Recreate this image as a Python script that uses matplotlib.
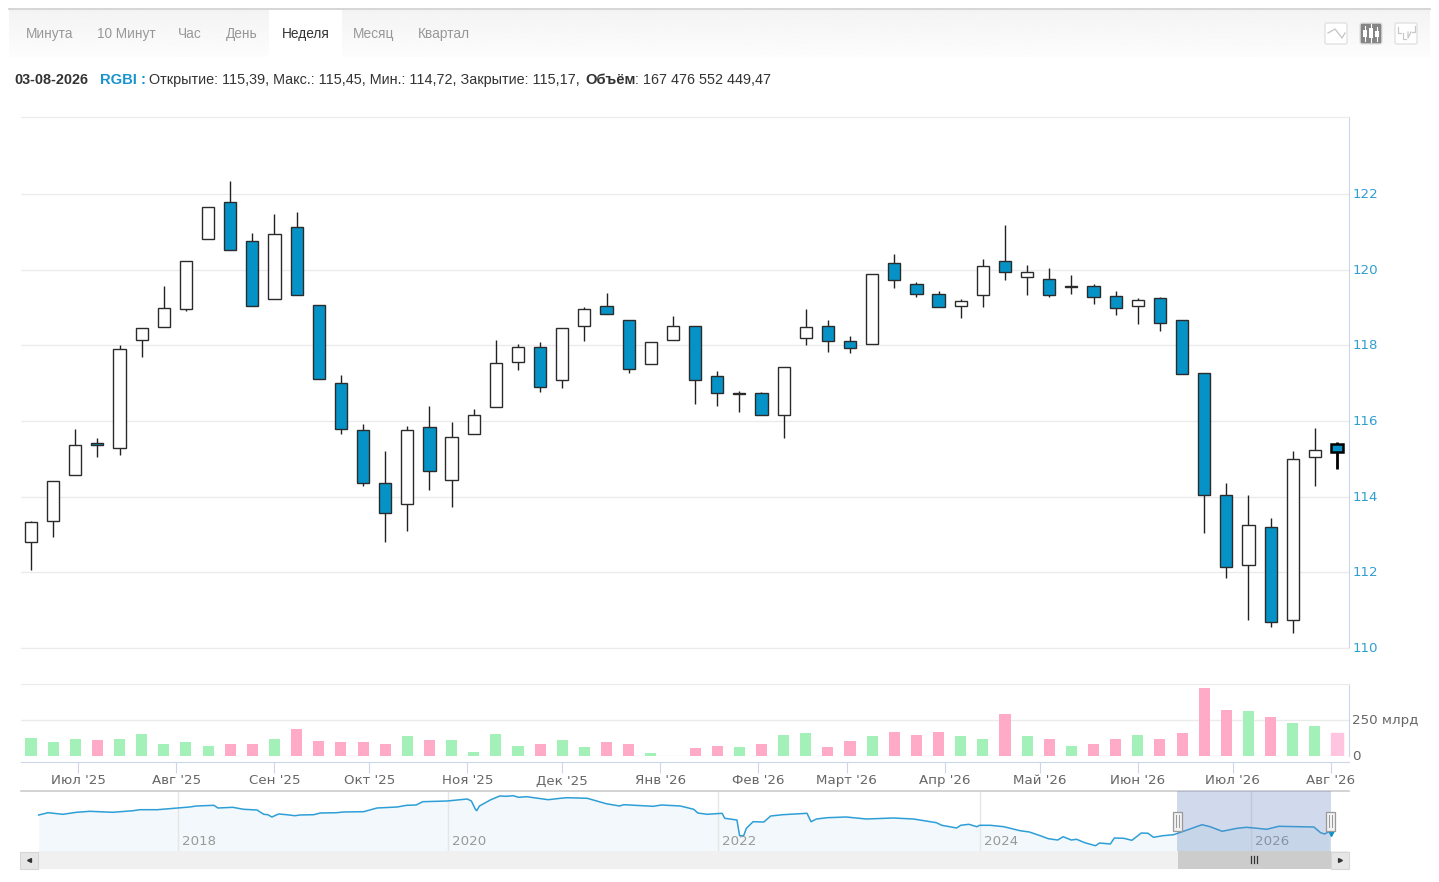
#RGBI weekly candles with volume and navigator
import numpy as np
import pandas as pd
import matplotlib
matplotlib.use("Agg")
import matplotlib.pyplot as plt
import matplotlib.dates as mdates
from matplotlib.patches import FancyBboxPatch, Rectangle
from matplotlib.transforms import ScaledTranslation

#weekly prices
opens = [112.79, 113.36, 114.57, 115.43, 115.30, 118.13, 118.49, 118.96, 120.81, 121.80,
         120.75, 119.22, 121.13, 119.06, 117.00, 115.75, 114.37, 113.80, 115.85, 114.44,
         115.67, 116.38, 117.57, 117.96, 117.09, 118.50, 119.03, 118.68, 117.51, 118.15,
         118.51, 117.19, 116.74, 116.73, 116.15, 118.19, 118.50, 118.12, 118.03, 120.17,
         119.63, 119.37, 119.04, 119.33, 120.23, 119.81, 119.75, 119.56, 119.57, 119.30,
         119.04, 119.25, 118.68, 117.27, 114.04, 112.19, 113.21, 110.74, 115.06, 115.39]
highs = [113.37, 114.41, 115.80, 115.54, 118.02, 118.46, 119.58, 120.24, 121.67, 122.35,
         120.98, 121.46, 121.52, 119.06, 117.22, 115.92, 115.22, 115.88, 116.40, 115.98,
         116.33, 118.13, 118.04, 118.10, 118.46, 119.01, 119.39, 118.68, 118.10, 118.78,
         118.51, 117.33, 116.80, 116.78, 117.42, 118.96, 118.68, 118.26, 119.88, 120.41,
         119.68, 119.44, 119.22, 120.27, 121.18, 120.12, 120.05, 119.86, 119.63, 119.44,
         119.26, 119.29, 118.68, 117.27, 114.35, 114.04, 113.44, 115.20, 115.81, 115.45]
lows = [112.07, 112.93, 114.57, 115.04, 115.10, 117.68, 118.49, 118.92, 120.81, 120.53,
        119.03, 119.22, 119.34, 117.11, 115.67, 114.27, 112.80, 113.09, 114.18, 113.72,
        115.67, 116.38, 117.34, 116.76, 116.86, 118.11, 118.83, 117.28, 117.51, 118.15,
        116.46, 116.41, 116.24, 116.15, 115.54, 118.02, 117.82, 117.79, 118.03, 119.51,
        119.29, 119.01, 118.72, 119.01, 119.74, 119.33, 119.29, 119.36, 119.10, 118.81,
        118.56, 118.38, 117.23, 113.04, 111.86, 110.73, 110.55, 110.39, 114.28, 114.72]
closes = [113.32, 114.41, 115.36, 115.36, 117.91, 118.46, 119.00, 120.24, 121.67, 120.53,
          119.05, 120.95, 119.34, 117.11, 115.78, 114.37, 113.58, 115.75, 114.69, 115.59,
          116.16, 117.54, 117.96, 116.89, 118.46, 118.97, 118.83, 117.38, 118.10, 118.51,
          117.09, 116.73, 116.71, 116.15, 117.42, 118.48, 118.12, 117.93, 119.88, 119.72,
          119.36, 119.01, 119.18, 120.11, 119.94, 119.95, 119.33, 119.53, 119.29, 118.98,
          119.21, 118.58, 117.23, 114.04, 112.15, 113.25, 110.68, 115.00, 115.23, 115.17]

#volume in billions, 1 = green bar, 0 = pink bar
volumes = [127, 95, 120, 111, 120, 153, 86, 95, 69, 86,
           86, 120, 188, 102, 95, 95, 86, 137, 111, 111,
           28, 153, 69, 86, 111, 60, 95, 86, 19, 0,
           53, 69, 60, 86, 144, 160, 60, 102, 137, 169,
           144, 169, 137, 120, 294, 137, 120, 69, 86, 120,
           144, 120, 160, 470, 319, 310, 269, 227, 211, 160]
vol_up = [1, 1, 1, 0, 1, 1, 1, 1, 1, 0,
          0, 1, 0, 0, 0, 0, 0, 1, 0, 1,
          1, 1, 1, 0, 1, 1, 0, 0, 1, 0,
          0, 0, 1, 0, 1, 1, 0, 0, 1, 0,
          0, 0, 1, 1, 0, 1, 0, 1, 0, 0,
          1, 0, 0, 0, 0, 1, 0, 1, 1, 0]

#navigator line, whole history (year, height of the line in the strip)
nav_years = [2016.97, 2017.04, 2017.15, 2017.25, 2017.35, 2017.52, 2017.67, 2017.72, 2017.85, 2018.00,
             2018.09, 2018.14, 2018.27, 2018.30, 2018.41, 2018.49, 2018.59, 2018.64, 2018.67, 2018.70,
             2018.75, 2018.81, 2018.87, 2018.91, 2019.01, 2019.06, 2019.18, 2019.23, 2019.38, 2019.48,
             2019.63, 2019.70, 2019.77, 2019.82, 2020.00, 2020.15, 2020.18, 2020.21, 2020.22, 2020.24,
             2020.32, 2020.39, 2020.44, 2020.49, 2020.53, 2020.59, 2020.75, 2020.84, 2020.89, 2021.04,
             2021.11, 2021.18, 2021.28, 2021.31, 2021.53, 2021.59, 2021.73, 2021.83, 2021.86, 2021.93,
             2022.04, 2022.06, 2022.15, 2022.17, 2022.20, 2022.22, 2022.27, 2022.35, 2022.40, 2022.49,
             2022.67, 2022.70, 2022.74, 2022.82, 2022.96, 2023.11, 2023.31, 2023.46, 2023.63, 2023.67,
             2023.78, 2023.81, 2023.87, 2023.93, 2023.95, 2024.03, 2024.13, 2024.25, 2024.32, 2024.40,
             2024.46, 2024.53, 2024.57, 2024.63, 2024.67, 2024.73, 2024.81, 2024.84, 2024.92, 2024.95,
             2025.02, 2025.08, 2025.15, 2025.20, 2025.24, 2025.31, 2025.39, 2025.49, 2025.60, 2025.66,
             2025.75, 2025.86, 2025.93, 2026.01, 2026.08, 2026.17, 2026.43, 2026.48, 2026.51, 2026.54]
nav_levels = [36.0, 38.3, 36.7, 38.7, 39.7, 38.7, 40.3, 41.3, 41.3, 43.0,
              44.0, 45.0, 45.7, 43.0, 43.7, 41.7, 41.0, 36.7, 36.3, 34.0,
              37.0, 36.3, 35.3, 36.0, 36.3, 38.0, 38.3, 39.0, 39.3, 43.0,
              44.0, 45.7, 46.0, 49.3, 50.0, 52.0, 50.0, 41.7, 40.3, 45.0,
              51.0, 55.0, 54.7, 55.3, 53.7, 54.3, 51.3, 52.7, 53.3, 52.7,
              50.0, 47.3, 45.0, 46.3, 44.7, 46.0, 45.0, 41.7, 38.0, 36.7,
              37.7, 32.7, 31.0, 15.3, 15.3, 22.7, 29.3, 29.0, 35.0, 36.3,
              37.7, 29.3, 32.0, 33.3, 34.0, 32.0, 33.0, 32.0, 28.3, 25.7,
              23.0, 25.7, 26.7, 24.3, 25.7, 25.7, 24.3, 20.3, 19.0, 15.3,
              12.3, 11.0, 14.3, 11.0, 11.7, 8.3, 5.3, 8.0, 7.0, 13.0,
              12.7, 10.7, 18.0, 17.7, 13.7, 15.3, 16.3, 21.0, 26.3, 24.3,
              19.7, 22.7, 23.7, 22.7, 21.7, 24.7, 24.0, 18.3, 17.0, 19.3]

price_ticks = [110, 112, 114, 116, 118, 120, 122]
month_dates = ["2025-07-01", "2025-08-01", "2025-09-01", "2025-10-01", "2025-11-01", "2025-12-01", "2026-01-01",
               "2026-02-01", "2026-03-01", "2026-04-01", "2026-05-01", "2026-06-01", "2026-07-01", "2026-08-01"]
month_labels = ["Июл '25", "Авг '25", "Сен '25", "Окт '25", "Ноя '25", "Дек '25", "Янв '26",
                "Фев '26", "Март '26", "Апр '26", "Май '26", "Июн '26", "Июл '26", "Авг '26"]
#the navigator scale is not quite even, so the year lines sit where they were read
year_labels = ["2018", "2020", "2022", "2024", "2026"]
year_ticks = [2018.0, 2020.01, 2022.01, 2023.95, 2025.96]
tab_names = ["Минута", "10 Минут", "Час", "День", "Неделя", "Месяц", "Квартал"]
tab_centers = [49.5, 126, 190, 241.5, 305.5, 374, 443.5]

W, H = 1439, 882
BLUE = "#0593c7"
GRID = "#ebebeb"
AXIS = "#ccd6eb"


def px_axes(left, top, right, bottom, **kw):
    #axes placed with pixel coords, y counted from the top like in the screenshot
    return fig.add_axes([left / W, 1 - bottom / H, (right - left) / W, (bottom - top) / H], **kw)


plt.rcParams["font.family"] = ["DejaVu Sans"]
fig = plt.figure(figsize=(W / 100, H / 100), dpi=100, facecolor="white")

dates = mdates.date2num(pd.date_range(end="2026-08-03", periods=len(opens), freq="7D"))
opens_a, closes_a = np.array(opens), np.array(closes)
week = 7.0
xmin = dates[0] - 0.452 * week
xmax = dates[-1] + 0.542 * week
up_1px = ScaledTranslation(0, 1 / 100, fig.dpi_scale_trans)

#main candles
ax = px_axes(21, 117, 1349, 648)
ax.set_xlim(xmin, xmax)
ax.set_ylim(110, 110 + 531 / 37.83)
ax.set_axisbelow(True)
ax.grid(axis="y", color=GRID, lw=1)
ax.vlines(dates[:-1], lows[:-1], highs[:-1], color="#222222", lw=1.0, zorder=2)
ax.vlines(dates[-1], lows[-1], highs[-1], color="black", lw=2.0, zorder=2)
bottoms = np.minimum(opens_a, closes_a)
heights = np.abs(opens_a - closes_a)
fills = [BLUE if c < o else "white" for o, c in zip(opens, closes)]
bars = ax.bar(dates, heights, bottom=bottoms, width=0.55 * week, color=fills,
              edgecolor="#2b2b2b", lw=1.0, zorder=3)
bars[-1].set_linewidth(1.8)
bars[-1].set_edgecolor("black")
ax.yaxis.tick_right()
ax.set_yticks(price_ticks)
ax.tick_params(axis="y", length=0, pad=2.5, labelsize=9.6, labelcolor="#2f9fd0")
for lab in ax.get_yticklabels():
    lab.set_transform(lab.get_transform() + up_1px)
ax.set_xticks([])
ax.spines["left"].set_visible(False)
ax.spines["bottom"].set_color(GRID)
ax.spines["top"].set_color(GRID)
ax.spines["right"].set_color(AXIS)

#volume
ax_vol = px_axes(21, 683.5, 1349, 756)
ax_vol.set_xlim(xmin, xmax)
ax_vol.set_ylim(0, 503)
ax_vol.set_axisbelow(True)
ax_vol.grid(axis="y", color=GRID, lw=1)
vol_colors = ["#a3f0b8" if u else "#ffaac6" for u in vol_up]
vbars = ax_vol.bar(dates, volumes, width=0.5 * week, color=vol_colors, zorder=2)
vbars[-1].set_color("#ffc5e0")
ax_vol.yaxis.tick_right()
ax_vol.set_yticks([0, 250], ["0", "250 млрд"])
ax_vol.tick_params(axis="y", length=0, pad=2.5, labelsize=9.6, labelcolor="#666666")
for lab in ax_vol.get_yticklabels():
    lab.set_transform(lab.get_transform() + up_1px)
ax_vol.set_xticks(mdates.date2num(pd.to_datetime(month_dates)), month_labels)
ax_vol.tick_params(axis="x", length=8, width=0.8, color=AXIS, pad=1, labelsize=9.6, labelcolor="#666666")
#the descender of Д pushes this one label down a pixel
ax_vol.get_xticklabels()[month_labels.index("Дек '25")].set_transform(
    ax_vol.get_xticklabels()[month_labels.index("Дек '25")].get_transform() + up_1px)
ax_vol.spines["bottom"].set_position(("outward", 4.3))
ax_vol.spines["bottom"].set_color(AXIS)
ax_vol.spines["top"].set_color(GRID)
ax_vol.spines["right"].set_color(AXIS)
ax_vol.spines["left"].set_visible(False)

#navigator strip
ax_nav = px_axes(21, 791, 1349, 851)
ax_nav.set_xlim(2018 + (21 - 177.5) / 134.8, 2018 + (1349 - 177.5) / 134.8)
ax_nav.set_ylim(0, 60)
ax_nav.vlines(year_ticks, 0, 60, color="#e6e6e6", lw=1, zorder=1)
ax_nav.fill_between(nav_years, nav_levels, 0, color="#f2f8fb", lw=0, zorder=0.5)
ax_nav.plot(nav_years, nav_levels, color="#2d9fd6", lw=1.1, zorder=2)
ax_nav.plot(nav_years[-1] + 0.02, nav_levels[-1] - 1, marker="v", ms=4, color=BLUE, zorder=2)
for yr, name in zip(year_ticks, year_labels):
    ax_nav.text(yr + 0.03, 9.5, name, fontsize=9.6, color="#999999", va="center", ha="left", zorder=2)
ax_nav.axvspan(2025.416, 2026.557, color="#6685c2", alpha=0.3, lw=0, zorder=3)
ax_nav.set_xticks([])
ax_nav.set_yticks([])
for s in ["left", "right", "bottom"]:
    ax_nav.spines[s].set_visible(False)
ax_nav.spines["top"].set_color("#cccccc")
ax_nav.spines["top"].set_linewidth(1.2)

#everything around the chart, in screenshot pixels
top = fig.add_axes([0, 0, 1, 1], zorder=10)
top.patch.set_alpha(0)
top.axis("off")

#tab bar
grad = np.linspace(0.955, 0.99, 30).reshape(-1, 1)
top.imshow(grad, extent=(9, 1430, 57, 10), cmap="gray", vmin=0, vmax=1, aspect="auto", zorder=1)
top.add_patch(Rectangle((269, 10), 73, 47, color="white", lw=0, zorder=2))
top.plot([9, 1430], [9, 9], color="#d2d2d2", lw=1.3, zorder=2)
top.set_xlim(0, W)
top.set_ylim(H, 0)
for name, cx in zip(tab_names, tab_centers):
    active = name == "Неделя"
    top.text(cx, 34, name, ha="center", va="center", fontsize=9.8, family="Liberation Sans",
             color="#333333" if active else "#989898", zorder=3)

#chart type buttons
for bx, face in [(1325, "white"), (1360, "#858585"), (1395, "white")]:
    top.add_patch(FancyBboxPatch((bx + 2, 25), 18, 17, boxstyle="round,pad=2,rounding_size=2",
                                 fc=face, ec="#e2e2e2", lw=1, zorder=3))
top.plot([1328, 1335, 1342, 1345], [33, 29, 38, 33], color="#c8c8c8", lw=1, zorder=4)
for cx, y0, y1 in [(1365, 26, 41), (1371, 24, 42), (1377, 27, 41)]:
    top.plot([cx, cx], [y0, y1], color="white", lw=0.8, zorder=4)
    top.add_patch(Rectangle((cx - 2, y0 + 4), 4, y1 - y0 - 8, color="white", lw=0, zorder=4))
top.plot([1398, 1398, 1401], [27, 33, 33], color="#c8c8c8", lw=0.9, zorder=4)
top.plot([1403, 1403, 1406], [33, 39, 39], color="#c8c8c8", lw=0.9, zorder=4)
top.plot([1408, 1408, 1411], [32, 38, 32], color="#c8c8c8", lw=0.9, zorder=4)
top.plot([1412, 1415, 1415], [32, 32, 26], color="#c8c8c8", lw=0.9, zorder=4)

#info line
top.text(14, 80, "03-08-2026", fontsize=10.4, family="Liberation Sans", weight="bold",
         color="#333333", va="center")
top.text(100, 80, "RGBI :", fontsize=10.6, family="Liberation Sans", weight="bold",
         color="#1a94cc", va="center")
top.text(149, 80, "Открытие: 115,39, Макс.: 115,45, Мин.: 114,72, Закрытие: 115,17,", fontsize=10.4,
         family="Liberation Sans", color="#333333", va="center")
top.text(585, 80, "Объём", fontsize=10.7, family="Liberation Sans", weight="bold",
         color="#333333", va="center")
top.text(771, 80, ": 167 476 552 449,47", fontsize=10.4, family="Liberation Sans",
         color="#333333", va="center", ha="right")

#scrollbar
top.add_patch(Rectangle((38, 851), 1311, 18, color="#f0f0f0", lw=0, zorder=1))
top.add_patch(Rectangle((1178, 851), 153, 18, color="#cccccc", lw=0, zorder=2))
top.add_patch(Rectangle((19.5, 851.5), 18.5, 17.5, fc="#e6e6e6", ec="#d6d6d6", lw=0.8, zorder=2))
top.add_patch(Rectangle((1331, 851.5), 18, 17.5, fc="#e6e6e6", ec="#d6d6d6", lw=0.8, zorder=2))
top.plot([29], [860], marker="<", ms=2.8, color="#333333", zorder=3)
top.plot([1340], [860], marker=">", ms=2.8, color="#333333", zorder=3)
for gx in [1251, 1254, 1257]:
    top.plot([gx, gx], [856, 863], color="#333333", lw=0.9, zorder=3)

#navigator handles
for hx in [1177, 1330]:
    top.add_patch(Rectangle((hx - 4.5, 811.5), 9, 19, fc="#f2f2f2", ec="#999999", lw=0.9, zorder=4))
    for d in [-1.5, 1.5]:
        top.plot([hx + d, hx + d], [815, 827], color="#999999", lw=0.7, zorder=5)

fig.savefig("out.png", dpi=100)
